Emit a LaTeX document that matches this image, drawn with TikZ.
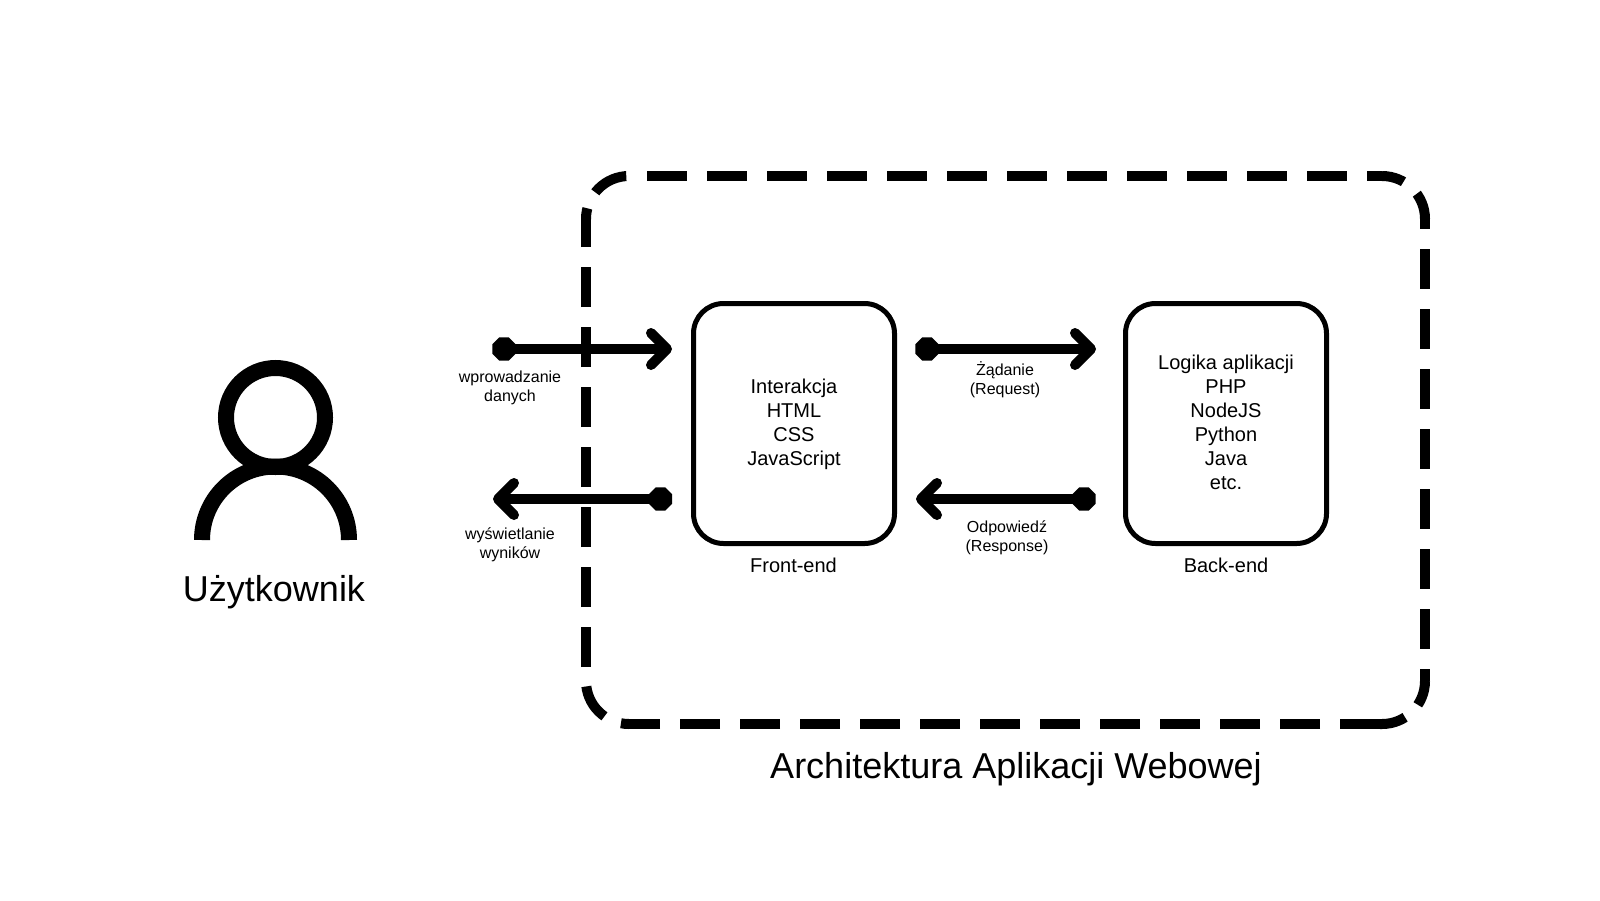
\documentclass[tikz,border=0pt]{standalone}
\usepackage{fontspec}
\setmainfont{Liberation Sans}
\usetikzlibrary{arrows.meta,shapes.geometric}
\tikzset{
  box/.style={draw=black,line width=5pt,rounded corners=30pt,inner sep=0pt,minimum width=201pt,minimum height=240pt,align=center,font=\fontsize{20}{24}\selectfont},
  boxcap/.style={anchor=base,inner sep=0pt,font=\fontsize{20}{24}\selectfont},
  bigcap/.style={anchor=base,inner sep=0pt,font=\fontsize{36}{43}\selectfont},
  small/.style={anchor=base,inner sep=0pt,align=center,font=\fontsize{16}{18.7}\selectfont},
  dot/.style={regular polygon,regular polygon sides=8,fill=black,inner sep=0pt,minimum size=25pt},
  conn/.style={line width=10pt,-{Straight Barb[round,length=16pt,width=32pt]}},
  frameside/.style={line width=10pt,dash pattern=on 40pt off 20pt},
  framecorner/.style={line width=10pt,dash pattern=on 36pt off 18pt},
  person/.style={line width=16pt}
}
\begin{document}
\begin{tikzpicture}[x=1pt,y=-1pt]
\useasboundingbox (0,0) rectangle (1600,900);
\fill[white] (0,0) rectangle (1600,900);
% container, side by side and corner by corner
\draw[frameside,dash phase=0pt] (1380,724) -- (629,724);
\draw[framecorner,dash phase=27.9pt] (629,724) arc (90:180:43);
\draw[frameside,dash phase=46pt] (586,681) -- (586,219);
\draw[framecorner,dash phase=25.2pt] (586,219) arc (180:270:43);
\draw[frameside,dash phase=42pt] (629,176) -- (1382,176);
\draw[framecorner,dash phase=13.5pt] (1382,176) arc (270:360:43);
\draw[frameside,dash phase=30pt] (1425,219) -- (1425,681);
\draw[framecorner,dash phase=10.8pt] (1425,681) arc (0:90:43) -- (1380,724);
% user icon
\draw[person] (275.5,417.5) circle (49.5);
\draw[person] (202,540) arc (180:360:73.5);
\node[bigcap] (user) at (274,601) {Użytkownik};
\node[bigcap] (arch) at (1016,778) {Architektura Aplikacji Webowej};
% boxes
\node[box] (front) at (794,423.5) {\rule{0pt}{16.6pt}Interakcja\\HTML\\CSS\\JavaScript};
\node[box] (back) at (1226,423.5) {Logika aplikacji\\PHP\\NodeJS\\Python\\Java\\etc.\rule[-2pt]{0pt}{0pt}};
\node[boxcap] (frontcap) at (793.5,572) {Front-end};
\node[boxcap] (backcap) at (1226,572) {Back-end};
% endpoints
\node[dot] (d1) at (504,349) {};
\coordinate (t1) at (672,349);
\node[dot] (d2) at (660.5,499) {};
\coordinate (t2) at (493,499);
\node[dot] (d3) at (927,349) {};
\coordinate (t3) at (1096,349);
\node[dot] (d4) at (1084,499) {};
\coordinate (t4) at (916,499);
\draw[conn] (d1.center) -- (t1);
\draw[conn] (d2.center) -- (t2);
\draw[conn] (d3.center) -- (t3);
\draw[conn] (d4.center) -- (t4);
% labels
\node[small] (l1) at (510,401) {wprowadzanie\\danych};
\node[small] (l2) at (510,558) {wyświetlanie\\wyników};
\node[small] (l3) at (1005,394) {Żądanie\\(Request)};
\node[small] (l4) at (1007,551) {Odpowiedź\\(Response)};
\end{tikzpicture}
\end{document}
